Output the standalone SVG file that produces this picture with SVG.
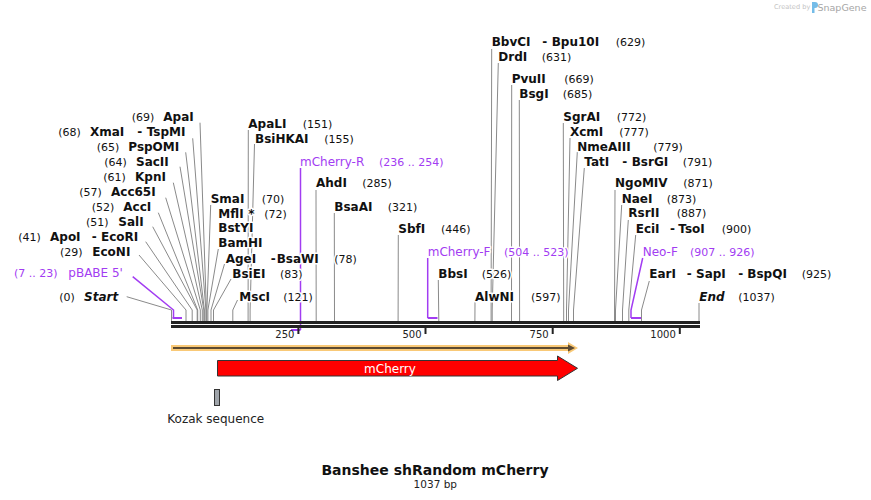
<svg xmlns="http://www.w3.org/2000/svg" width="871" height="500" viewBox="0 0 871 500">
<style>
text{font-family:"DejaVu Sans","Liberation Sans",sans-serif;paint-order:stroke;stroke:#fff;stroke-width:3px;stroke-linejoin:round}
.n{font-size:11px;fill:#111}
.b{font-size:12px;font-weight:bold;fill:#111}
.bi{font-size:12px;font-weight:bold;font-style:italic;fill:#111}
.p{font-size:12px;fill:#a23cf2}
.pn{font-size:11px;fill:#a23cf2}
.t{font-size:10px;fill:#222;stroke:none}
.ld{fill:none;stroke:#8a8a8a;stroke-width:1}
.pl{fill:none;stroke:#a23cf2;stroke-width:1.5}
.pb{fill:none;stroke:#a23cf2;stroke-width:2}
.ax{stroke:#222;stroke-width:3}
.tk{stroke:#222;stroke-width:2}
</style>
<rect width="871" height="500" fill="#fff"/>
<g id="watermark">
<text x="774" y="9" style="font-size:6.6px;fill:#c4c4c4;stroke:none">Created by</text>
<path d="M812,2 h3 a3,3 0 0 1 0,6 h-0.5 v5 h-2.5 z" fill="#74bce8"/>
<text x="817.5" y="11" style="font-size:9.5px;fill:#a6a6a6;stroke:none">SnapGene</text>
</g>
<g id="connectors">
<polyline class="ld" points="200,122.7 206.4,310 206.4,321"/>
<polyline class="ld" points="192.7,138.3 205.9,310 205.9,321"/>
<polyline class="ld" points="185.7,152.3 204.4,310 204.4,321"/>
<polyline class="ld" points="180,166.7 203.8,310 203.8,321"/>
<polyline class="ld" points="173.3,182.7 202.3,310 202.3,321"/>
<polyline class="ld" points="165.7,197.7 200.3,310 200.3,321"/>
<polyline class="ld" points="158.3,212.7 197.7,310 197.7,321"/>
<polyline class="ld" points="152.7,226.7 197.2,310 197.2,321"/>
<polyline class="ld" points="145.7,241.7 192.2,310 192.2,321"/>
<polyline class="ld" points="139,255 186,310 186,321"/>
<polyline class="ld" points="126.7,296.7 171.5,310 171.5,321"/>
<polyline class="ld" points="210.7,205 206.9,310 206.9,321"/>
<polyline class="ld" points="218.3,249 207.9,310 207.9,321"/>
<polyline class="ld" points="224.5,264 211,310 211,321"/>
<polyline class="ld" points="231,279 213.5,310 213.5,321"/>
<polyline class="ld" points="237.5,300 232.8,310 232.8,321"/>
<polyline class="ld" points="248.3,130 248.1,321"/>
<polyline class="ld" points="254.5,144 250.1,310 250.1,321"/>
<polyline class="ld" points="316,190 316.2,321"/>
<polyline class="ld" points="334.3,213 334.5,321"/>
<polyline class="ld" points="398.3,235 398.1,321"/>
<polyline class="ld" points="438.3,280 438.8,321"/>
<polyline class="ld" points="475,302 474.9,321"/>
<polyline class="ld" points="491.7,49 491.1,310 491.1,321"/>
<polyline class="ld" points="498.3,63 492.2,310 492.2,321"/>
<polyline class="ld" points="511.7,85 511.5,321"/>
<polyline class="ld" points="519.3,100 519.6,321"/>
<polyline class="ld" points="563.3,123 563.7,321"/>
<polyline class="ld" points="570,138 566.5,310 566.5,321"/>
<polyline class="ld" points="577.3,152 568.5,310 568.5,321"/>
<polyline class="ld" points="584.3,168 573.5,310 573.5,321"/>
<polyline class="ld" points="615,190 614.5,321"/>
<polyline class="ld" points="621.7,205 615.5,310 615.5,321"/>
<polyline class="ld" points="628.3,220 622.5,310 622.5,321"/>
<polyline class="ld" points="635.7,235 628.8,310 628.8,321"/>
<polyline class="ld" points="649.3,281 641.5,310 641.5,321"/>
<polyline class="ld" points="699,303 699,321"/>
<polyline class="pl" points="132.7,276.7 173.5,310 173.5,318"/>
<polyline class="pb" points="173.5,317 173.5,318 182,318"/>
<polyline class="pl" points="300.5,168 300.5,330"/>
<polyline class="pb" points="300.5,330 291,330"/>
<polyline class="pl" points="427.7,258 427.7,318"/>
<polyline class="pb" points="427.7,318 437.5,318"/>
<polyline class="pl" points="642.7,258 631,310 631,318"/>
<polyline class="pb" points="631,318 641,318"/>
</g>
<g id="axis">
<line class="ax" x1="171" y1="322.5" x2="700" y2="322.5"/>
<line class="ax" x1="171" y1="326.5" x2="700" y2="326.5"/>
<line class="tk" x1="298.4" y1="328" x2="298.4" y2="334"/>
<line class="tk" x1="425.5" y1="328" x2="425.5" y2="334"/>
<line class="tk" x1="552.7" y1="328" x2="552.7" y2="334"/>
<line class="tk" x1="679.8" y1="328" x2="679.8" y2="334"/>
<text class="t" x="294.4" y="337.5" text-anchor="end">250</text>
<text class="t" x="421.5" y="337.5" text-anchor="end">500</text>
<text class="t" x="548.7" y="337.5" text-anchor="end">750</text>
<text class="t" x="675.8" y="337.5" text-anchor="end">1000</text>
</g>
<g id="feature-orf">
<polygon points="171,345 568,345 568,342 578,348 568,354 568,351 171,351" fill="#f9c977"/>
<line x1="173" y1="348" x2="570" y2="348" stroke="#5c4a32" stroke-width="2"/>
<polygon points="568,344.5 575,348 568,351.5" fill="#5c4a32"/>
</g>
<g id="feature-mCherry">
<polygon points="217.5,360.5 557.5,360.5 557.5,356 577.5,368.3 557.5,380.5 557.5,376 217.5,376" fill="#ff0000" stroke="#333" stroke-width="1"/>
<text x="390" y="372.5" text-anchor="middle" style="font-size:12px;fill:#fff;stroke:none">mCherry</text>
</g>
<g id="feature-kozak">
<rect x="214.5" y="389.5" width="5" height="16" fill="#9fa4aa" stroke="#333" stroke-width="1"/>
<text x="167.3" y="422.5" style="font-size:12px;fill:#222;stroke:none">Kozak sequence</text>
</g>
<g id="title">
<text x="435" y="474.5" text-anchor="middle" style="font-size:14px;font-weight:bold;fill:#111;stroke:none">Banshee shRandom mCherry</text>
<text x="435.3" y="488" text-anchor="middle" style="font-size:10.5px;fill:#222;stroke:none">1037 bp</text>
</g>
<g id="enz-ApaI"><text class="n" x="131.7" y="120.7">(69)</text><text class="b" x="163.3" y="120.7">ApaI</text></g>
<g id="enz-XmaI"><text class="n" x="58.3" y="136">(68)</text><text class="b" x="90" y="136">XmaI</text><text class="b" x="137.3" y="136">-</text><text class="b" x="146.7" y="136">TspMI</text></g>
<g id="enz-PspOMI"><text class="n" x="96.7" y="150.7">(65)</text><text class="b" x="128.3" y="150.7">PspOMI</text></g>
<g id="enz-SacII"><text class="n" x="104.3" y="165.7">(64)</text><text class="b" x="136" y="165.7">SacII</text></g>
<g id="enz-KpnI"><text class="n" x="103.3" y="180.7">(61)</text><text class="b" x="135" y="180.7">KpnI</text></g>
<g id="enz-Acc65I"><text class="n" x="79.3" y="195.7">(57)</text><text class="b" x="111" y="195.7">Acc65I</text></g>
<g id="enz-AccI"><text class="n" x="91.7" y="210.7">(52)</text><text class="b" x="123.3" y="210.7">AccI</text></g>
<g id="enz-SalI"><text class="n" x="86" y="225.7">(51)</text><text class="b" x="118.3" y="225.7">SalI</text></g>
<g id="enz-ApoI"><text class="n" x="18.3" y="240.7">(41)</text><text class="b" x="50" y="240.7">ApoI</text><text class="b" x="91.7" y="240.7">-</text><text class="b" x="101" y="240.7">EcoRI</text></g>
<g id="enz-EcoNI"><text class="n" x="60" y="255.7">(29)</text><text class="b" x="92.3" y="255.7">EcoNI</text></g>
<g id="primer-pBABE5"><text class="pn" x="14" y="277.3">(7 .. 23)</text><text class="p" x="68.3" y="277.3">pBABE 5'</text></g>
<g id="start"><text class="n" x="59.3" y="300.7">(0)</text><text class="bi" x="84" y="300.7">Start</text></g>
<g id="enz-SmaI"><text class="b" x="210.7" y="203">SmaI</text><text class="n" x="261.7" y="203">(70)</text></g>
<g id="enz-MflI"><text class="b" x="218.3" y="218">MflI</text><text class="b" x="248.3" y="218">*</text><text class="n" x="264.3" y="218">(72)</text><text class="b" x="218.3" y="232.3">BstYI</text><text class="b" x="218.3" y="247.3">BamHI</text></g>
<g id="enz-AgeI"><text class="b" x="225.7" y="263">AgeI</text><text class="b" x="270.7" y="263">-</text><text class="b" x="276.7" y="263">BsaWI</text><text class="n" x="334.3" y="263">(78)</text></g>
<g id="enz-BsiEI"><text class="b" x="232.3" y="278">BsiEI</text><text class="n" x="280" y="278">(83)</text></g>
<g id="enz-MscI"><text class="b" x="239.3" y="300.7">MscI</text><text class="n" x="283.3" y="300.7">(121)</text></g>
<g id="enz-ApaLI"><text class="b" x="248.3" y="128">ApaLI</text><text class="n" x="302.7" y="128">(151)</text></g>
<g id="enz-BsiHKAI"><text class="b" x="255" y="143">BsiHKAI</text><text class="n" x="324.3" y="143">(155)</text></g>
<g id="primer-mCherry-R"><text class="p" x="300" y="165.7">mCherry-R</text><text class="pn" x="379" y="165.7">(236 .. 254)</text></g>
<g id="enz-AhdI"><text class="b" x="316" y="187.3">AhdI</text><text class="n" x="362.3" y="187.3">(285)</text></g>
<g id="enz-BsaAI"><text class="b" x="334.3" y="211.3">BsaAI</text><text class="n" x="387.7" y="211.3">(321)</text></g>
<g id="enz-SbfI"><text class="b" x="398.3" y="233">SbfI</text><text class="n" x="441" y="233">(446)</text></g>
<g id="primer-mCherry-F"><text class="p" x="427.7" y="255.7">mCherry-F</text><text class="pn" x="504" y="255.7">(504 .. 523)</text></g>
<g id="enz-BbsI"><text class="b" x="438.3" y="278">BbsI</text><text class="n" x="481.7" y="278">(526)</text></g>
<g id="enz-AlwNI"><text class="b" x="475" y="300.7">AlwNI</text><text class="n" x="531" y="300.7">(597)</text></g>
<g id="enz-BbvCI"><text class="b" x="491.7" y="46.3">BbvCI</text><text class="b" x="542.3" y="46.3">-</text><text class="b" x="551.7" y="46.3">Bpu10I</text><text class="n" x="615.7" y="46.3">(629)</text></g>
<g id="enz-DrdI"><text class="b" x="498.3" y="60.7">DrdI</text><text class="n" x="541.7" y="60.7">(631)</text></g>
<g id="enz-PvuII"><text class="b" x="511.7" y="83">PvuII</text><text class="n" x="564.3" y="83">(669)</text></g>
<g id="enz-BsgI"><text class="b" x="519.3" y="98">BsgI</text><text class="n" x="562.7" y="98">(685)</text></g>
<g id="enz-SgrAI"><text class="b" x="563.3" y="121.3">SgrAI</text><text class="n" x="616.7" y="121.3">(772)</text></g>
<g id="enz-XcmI"><text class="b" x="570" y="135.7">XcmI</text><text class="n" x="619.3" y="135.7">(777)</text></g>
<g id="enz-NmeAIII"><text class="b" x="577.3" y="150.7">NmeAIII</text><text class="n" x="653.3" y="150.7">(779)</text></g>
<g id="enz-TatI"><text class="b" x="584.3" y="165.7">TatI</text><text class="b" x="622.3" y="165.7">-</text><text class="b" x="631.7" y="165.7">BsrGI</text><text class="n" x="682.7" y="165.7">(791)</text></g>
<g id="enz-NgoMIV"><text class="b" x="615" y="187.3">NgoMIV</text><text class="n" x="683.3" y="187.3">(871)</text></g>
<g id="enz-NaeI"><text class="b" x="621.7" y="203">NaeI</text><text class="n" x="666.7" y="203">(873)</text></g>
<g id="enz-RsrII"><text class="b" x="628.3" y="217.3">RsrII</text><text class="n" x="676.7" y="217.3">(887)</text></g>
<g id="enz-EciI"><text class="b" x="635.7" y="233">EciI</text><text class="b" x="670" y="233">-</text><text class="b" x="678.3" y="233">TsoI</text><text class="n" x="721.7" y="233">(900)</text></g>
<g id="primer-Neo-F"><text class="p" x="642.7" y="255.7">Neo-F</text><text class="pn" x="690" y="255.7">(907 .. 926)</text></g>
<g id="enz-EarI"><text class="b" x="649.3" y="278">EarI</text><text class="b" x="686.7" y="278">-</text><text class="b" x="696" y="278">SapI</text><text class="b" x="738.3" y="278">-</text><text class="b" x="747.3" y="278">BspQI</text><text class="n" x="801.7" y="278">(925)</text></g>
<g id="end"><text class="bi" x="699.3" y="300.7">End</text><text class="n" x="738.3" y="300.7">(1037)</text></g>
</svg>
